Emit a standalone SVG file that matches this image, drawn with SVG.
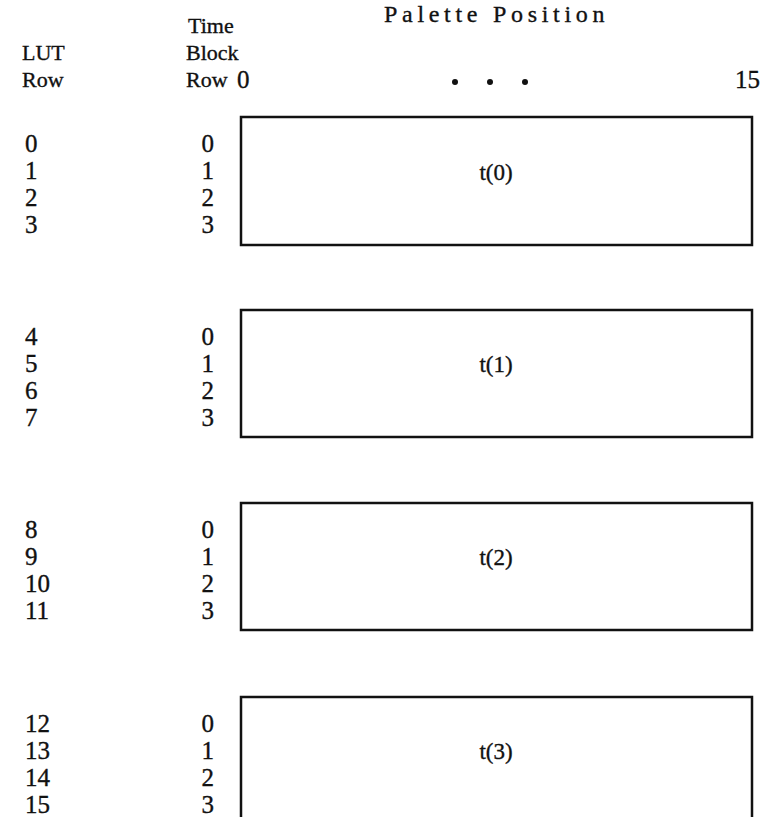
<svg xmlns="http://www.w3.org/2000/svg" width="763" height="817" viewBox="0 0 763 817">
<style>
text{font-family:"Liberation Serif","Times New Roman",serif;fill:#111;font-size:23px;stroke:#111;stroke-width:0.35}
.num{font-size:25px}
.r{text-anchor:end}
.c{text-anchor:middle}
.box{fill:none;stroke:#111;stroke-width:2.5}
.pp{letter-spacing:4.7px;font-size:24px}
.hd{font-size:22px}
</style>
<rect width="763" height="817" fill="#fff"/>
<g id="header">
<text x="384" y="22" class="pp">Palette Position</text>
<text x="188" y="33" class="hd">Time</text>
<text x="186" y="60" class="hd">Block</text>
<text x="186" y="87" class="hd">Row</text>
<text x="22" y="60" class="hd">LUT</text>
<text x="22" y="87" class="hd">Row</text>
<text x="237" y="88" class="num">0</text>
<text x="760" y="88" class="num r">15</text>
<circle cx="455" cy="82" r="3" fill="#111"/>
<circle cx="490" cy="82" r="3" fill="#111"/>
<circle cx="525" cy="82" r="3" fill="#111"/>
</g>
<g id="block0">
<rect class="box" x="241" y="117" width="511" height="128"/>
<text x="496" y="180" class="c">t(0)</text>
<text x="25" y="152" class="num">0</text><text x="25" y="179" class="num">1</text><text x="25" y="206" class="num">2</text><text x="25" y="233" class="num">3</text>
<text x="214" y="152" class="num r">0</text><text x="214" y="179" class="num r">1</text><text x="214" y="206" class="num r">2</text><text x="214" y="233" class="num r">3</text>
</g>
<g id="block1">
<rect class="box" x="241" y="310" width="511" height="127"/>
<text x="496" y="372" class="c">t(1)</text>
<text x="25" y="345" class="num">4</text><text x="25" y="372" class="num">5</text><text x="25" y="399" class="num">6</text><text x="25" y="426" class="num">7</text>
<text x="214" y="345" class="num r">0</text><text x="214" y="372" class="num r">1</text><text x="214" y="399" class="num r">2</text><text x="214" y="426" class="num r">3</text>
</g>
<g id="block2">
<rect class="box" x="241" y="503" width="511" height="127"/>
<text x="496" y="565" class="c">t(2)</text>
<text x="25" y="538" class="num">8</text><text x="25" y="565" class="num">9</text><text x="25" y="592" class="num">10</text><text x="25" y="619" class="num">11</text>
<text x="214" y="538" class="num r">0</text><text x="214" y="565" class="num r">1</text><text x="214" y="592" class="num r">2</text><text x="214" y="619" class="num r">3</text>
</g>
<g id="block3">
<path class="box" d="M241,817 V697 H752 V817"/>
<text x="496" y="759" class="c">t(3)</text>
<text x="25" y="732" class="num">12</text><text x="25" y="759" class="num">13</text><text x="25" y="786" class="num">14</text><text x="25" y="813" class="num">15</text>
<text x="214" y="732" class="num r">0</text><text x="214" y="759" class="num r">1</text><text x="214" y="786" class="num r">2</text><text x="214" y="813" class="num r">3</text>
</g>
<g id="connectors"></g>
</svg>
